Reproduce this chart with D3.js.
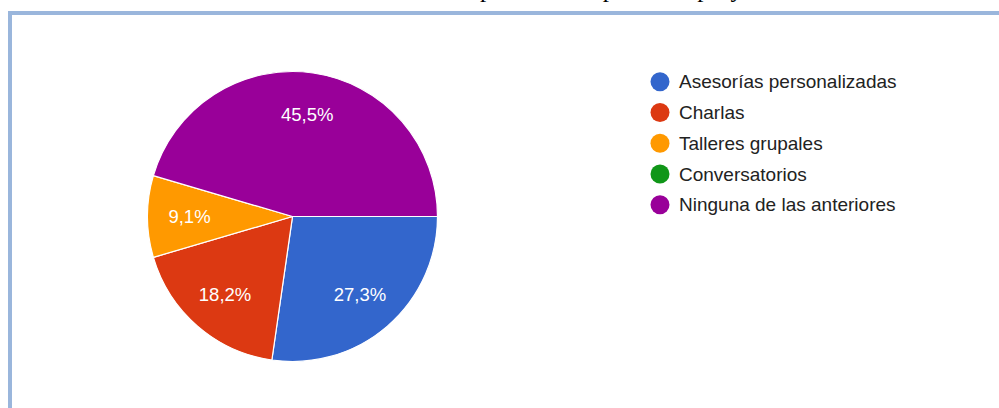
<!DOCTYPE html>
<html>
<head>
<meta charset="utf-8">
<script src="https://cdn.jsdelivr.net/npm/d3@7"></script>
<style>
  html, body { margin: 0; padding: 0; background: #fff; }
  svg { display: block; }
</style>
</head>
<body>
<svg id="chart" width="999" height="408"></svg>
<script>
// Survey answers: number of respondents per option
const categories = [
  "Asesorías personalizadas",
  "Charlas",
  "Talleres grupales",
  "Conversatorios",
  "Ninguna de las anteriores"
];
const counts = [3, 2, 1, 0, 5];
const colors = ["#3366cc", "#dc3912", "#ff9900", "#109618", "#990099"];
const questionText = "Actividades de acompañamiento para este proyecto";

const svg = d3.select("#chart");
const W = 999, H = 408;
const sans = "'Liberation Sans', Arial, sans-serif";

// Question line sitting above the card (only its lower part is in view)
const title = svg.append("text")
  .attr("y", -3)
  .attr("font-family", "'Liberation Serif', 'Times New Roman', serif")
  .attr("font-size", 25)
  .attr("fill", "#000")
  .text(questionText);
const pIndex = questionText.indexOf("p");
const preW = title.node().getSubStringLength(0, pIndex);
title.attr("x", 480 - preW);

// Card frame
svg.append("path")
  .attr("d", `M10,${H + 10} L10,13 L${W + 10},13`)
  .attr("fill", "none")
  .attr("stroke", "#9ab6dc")
  .attr("stroke-width", 4);

// Pie
const cx = 292.5, cy = 216.5, R = 145;
const data = categories.map((c, i) => ({ name: c, value: counts[i], color: colors[i] }));
const total = d3.sum(counts);

const pie = d3.pie()
  .sort(null)
  .value(d => d.value)
  .startAngle(Math.PI / 2)
  .endAngle(Math.PI / 2 + 2 * Math.PI);

const arc = d3.arc().innerRadius(0).outerRadius(R);
const labelArc = d3.arc().innerRadius(103).outerRadius(103);

const g = svg.append("g").attr("transform", `translate(${cx},${cy})`);
const arcs = pie(data).filter(d => d.data.value > 0);

g.selectAll("path.slice")
  .data(arcs)
  .join("path")
  .attr("class", "slice")
  .attr("d", arc)
  .attr("fill", d => d.data.color)
  .attr("stroke", "#fff")
  .attr("stroke-width", 1.2)
  .attr("stroke-linejoin", "round");

const fmt = v => (Math.round(v * 1000) / 10).toFixed(1).replace(".", ",") + "%";

g.selectAll("text.pct")
  .data(arcs)
  .join("text")
  .attr("class", "pct")
  .attr("transform", d => `translate(${labelArc.centroid(d)})`)
  .attr("text-anchor", "middle")
  .attr("dy", "0.35em")
  .attr("font-family", sans)
  .attr("font-size", 18.5)
  .attr("fill", "#fff")
  .text(d => fmt(d.data.value / total));

// Legend
const legend = svg.append("g").attr("transform", "translate(660,81.7)");
const rowH = 30.75;
const rows = legend.selectAll("g.row")
  .data(data)
  .join("g")
  .attr("class", "row")
  .attr("transform", (d, i) => `translate(0,${i * rowH})`);

rows.append("circle")
  .attr("r", 9.5)
  .attr("fill", d => d.color);

rows.append("text")
  .attr("x", 19)
  .attr("dy", "0.35em")
  .attr("font-family", sans)
  .attr("font-size", 19)
  .attr("fill", "#222")
  .text(d => d.name);
</script>
</body>
</html>
